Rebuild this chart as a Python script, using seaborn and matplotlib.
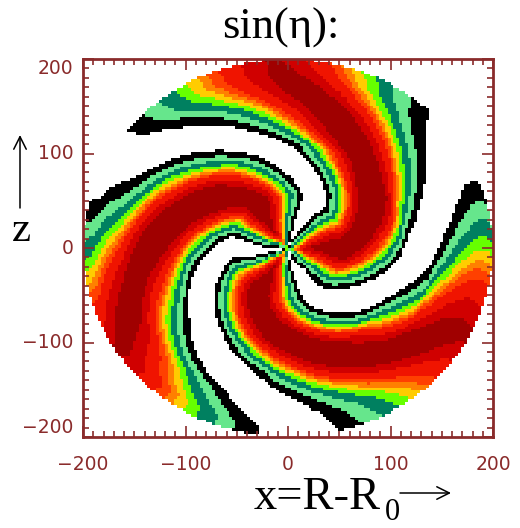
import numpy as np
import matplotlib
matplotlib.use("Agg")
import matplotlib.pyplot as plt
from matplotlib.colors import ListedColormap, BoundaryNorm
import seaborn as sns

# -------------------------------
# Arm edges: radius and angle (deg) of each white/black edge
# -------------------------------
edge1_r = [0, 10.9, 28.2, 43.8, 57.8, 70.5, 75.4, 84.7, 100.5, 111.8, 126.6, 137, 149.8, 160.1, 170.5, 183.1, 191.3, 206, 220]
edge1_t = [77, 77.2, 77.1, 75.2, 75.9, 84.9, 88.9, 95.6, 106, 115, 125.6, 132.8, 142.5, 149.7, 155, 159.2, 164, 166.3, 168]

edge2_r = [0, 3, 25.8, 55.3, 72.8, 86.5, 101, 109, 119.2, 131.4, 149.6, 165.6, 183.3, 199.8, 220]
edge2_t = [65, 65, 59.3, 49.9, 60.7, 72.6, 84.7, 89.2, 98.7, 108.1, 119.5, 129.8, 139, 142.2, 146]

edge3_r = [0, 10, 28.3, 52.7, 69.4, 88.2, 103, 110.7, 117, 129, 140.3, 154.5, 170, 186, 199, 203, 220]
edge3_t = [-70, -70, -55.4, -51.6, -37.6, -22.6, -11.2, -3.8, 5.2, 14.2, 22.1, 30, 38.5, 44.3, 45.9, 53.8, 58]

edge4_r = [0, 14.9, 32.4, 51.4, 66, 77.6, 99.4, 112.3, 125.8, 140.9, 143, 153.3, 167.8, 184.6, 195.7, 203, 220]
edge4_t = [-84, -84, -78.7, -75.5, -70, -60.3, -41.3, -26.3, -17.1, -7.3, -3, 5.2, 14.6, 21.2, 21.6, 16.9, 16]

edge5_r = [0, 8.6, 31.9, 55.1, 72.7, 83.2, 98.4, 110, 122.3, 133.7, 146.1, 157.4, 166.9, 177.9, 199, 220]
edge5_t = [-166, -165.8, -166.6, -168.9, -156.8, -149.5, -136.8, -126.3, -116.3, -105, -97.1, -89.5, -84.5, -79.5, -75.4, -72]

edge6_r = [0, 15, 41.3, 55.4, 70.1, 85.9, 100.9, 113.5, 126.8, 139.7, 151.8, 163.6, 175.8, 189.6, 202, 220]
edge6_t = [-180, -180, -189.3, -192.5, -182.6, -170.3, -159.3, -147.9, -138.1, -130.8, -121.7, -111.6, -105.6, -98.9, -98.4, -98]

# how far the colours climb inside an arm close to the centre
peak_r = [0, 8, 20, 45, 220]
peak_v = [0.35, 0.55, 0.8, 1, 1]

# width of the colour bands against radius (they fan out towards the rim)
spread_r = [0, 50, 100, 140, 170, 200, 220]
spread_v = [1.0, 0.95, 0.88, 0.95, 1.05, 1.2, 1.2]

# colour bands, as a share of the half width of an arm
band_levels = [-1, 0, 0.12, 0.22, 0.32, 0.39, 0.45, 0.50, 0.56, 0.68, 0.80, 50]
band_colors = ["#ffffff", "#000000", "#66e68c", "#008060", "#66ff00", "#ffcc00",
               "#ff8000", "#ff4000", "#f01400", "#d00000", "#a00000"]

x_labels = [-200, -100, 0, 100, 200]
z_labels = [-200, -100, 0, 100, 200]
minor_step = 10
maroon = "#8a2b2b"

# -------------------------------
# Build the blocky grid from the edges
# -------------------------------
nx, ny = 140, 130
x = -200 + (np.arange(nx) + 0.5) * 400 / nx
z = 200 - (np.arange(ny) + 0.5) * 400 / ny
X, Z = np.meshgrid(x, z)
R = np.hypot(X, Z)
T = np.degrees(np.arctan2(Z, X))

start = np.interp(R, edge6_r, edge6_t)
b1 = np.interp(R, edge5_r, edge5_t) - start
b2 = np.interp(R, edge4_r, edge4_t) - start
b3 = np.interp(R, edge3_r, edge3_t) - start
b4 = np.interp(R, edge2_r, edge2_t) - start
b5 = np.interp(R, edge1_r, edge1_t) - start
rel = (T - start) % 360
peak = np.interp(R, peak_r, peak_v)
spread = np.interp(R, spread_r, spread_v)


def arm(a, b):
    return np.minimum(rel - a, b - rel) / ((b - a) / 2)


field = np.full(R.shape, -1.0)
for a, b in [(b1, b2), (b3, b4), (b5, 360 + 0 * b5)]:
    inside = (rel >= a) & (rel < b)
    field[inside] = (arm(a, b) * peak / spread)[inside]

# -------------------------------
# Plot
# -------------------------------
fig = plt.figure(figsize=(5.2, 5.28), dpi=100)
ax = fig.add_axes([83 / 520, 1 - 437 / 528, 410 / 520, 378 / 528])

cmap = ListedColormap(band_colors)
norm = BoundaryNorm(band_levels, cmap.N)
sns.heatmap(field, mask=R > 200, cmap=cmap, norm=norm, cbar=False,
            xticklabels=False, yticklabels=False, ax=ax)

for s in ax.spines.values():
    s.set_visible(True)
    s.set_color(maroon)
    s.set_linewidth(2)

ax.set_xticks([(v + 200) / 400 * nx for v in x_labels])
ax.set_xticklabels([str(v).replace("-", "\u2212") for v in x_labels])
ax.set_yticks([(200 - v) / 400 * ny for v in z_labels])
ax.set_yticklabels([str(v).replace("-", "\u2212") for v in z_labels], va="center")
minor = np.arange(-200, 201, minor_step)
ax.set_xticks([(v + 200) / 400 * nx for v in minor], minor=True)
ax.set_yticks([(200 - v) / 400 * ny for v in minor], minor=True)

ax.tick_params(which="major", direction="in", length=8, width=1.2, color=maroon,
               top=True, right=True, bottom=True, left=True,
               labelcolor=maroon, labelsize=13.5)
ax.tick_params(which="minor", direction="in", length=4, width=1.2, color=maroon,
               top=True, right=True, bottom=True, left=True)
ax.tick_params(axis="x", which="major", pad=13)
ax.tick_params(axis="y", which="major", pad=7)
ax.tick_params(axis="y", which="both", labelrotation=0)
# the end labels are pulled inwards
ylabs = ax.get_yticklabels()
ylabs[0].set_va("bottom")
ylabs[-1].set_va("top")

# -------------------------------
# Hand-placed labels (figure pixels)
# -------------------------------
W, H = 520.0, 528.0
serif = "Liberation Serif"


def put(px, py, s, size, **kw):
    fig.text(px / W, 1 - py / H, s, fontsize=size, family=serif, color="black", **kw)


def arrow(x0, y0, x1, y1):
    ax.annotate("", xy=(x1 / W, 1 - y1 / H), xytext=(x0 / W, 1 - y0 / H),
                xycoords="figure fraction", textcoords="figure fraction",
                arrowprops=dict(arrowstyle="->,head_length=0.9,head_width=0.45",
                                color="black", lw=1.1, shrinkA=0, shrinkB=0),
                annotation_clip=False)


put(281, 39, "sin(\u03b7):", 32, ha="center", va="baseline")
put(254, 509, "x=R-R", 33.5, ha="left", va="baseline")
put(385, 520, "0", 22, ha="left", va="baseline")
put(12, 241, "z", 31, ha="left", va="baseline")
arrow(400, 493, 451, 493)
arrow(20, 208, 20, 135)

plt.savefig("out.png", dpi=100)
